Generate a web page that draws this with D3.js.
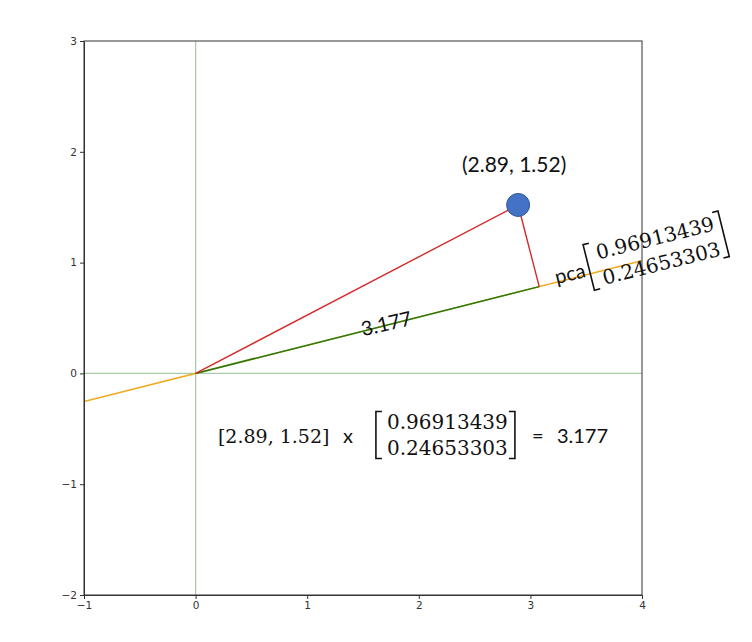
<!DOCTYPE html>
<html>
<head>
	<meta charset="utf-8">
	<title>PCA projection</title>
	<script type="text/javascript" src="https://cdn.jsdelivr.net/npm/d3@7"></script>
	<style type="text/css">
		body {
			margin: 0;
			background: #fff;
		}
		.axis text {
			font-family: "DejaVu Sans", sans-serif;
			font-size: 10.5px;
			fill: #333;
		}
		.axis line, .axis path {
			stroke: #333;
		}
		.sans {
			font-family: Lato, "Open Sans", sans-serif;
			fill: #111;
		}
		.serif {
			font-family: "DejaVu Serif", serif;
			fill: #111;
		}
	</style>
</head>
<body>
	<div id="chart"></div>
	<script type="text/javascript">
		// values
		const point = [2.89, 1.52];
		const pcaVector = [0.96913439, 0.24653303];
		const projection = 3.177;

		const xDomain = [-1, 4];
		const yDomain = [-2, 3];
		const xTicks = [-1, 0, 1, 2, 3, 4];
		const yTicks = [-2, -1, 0, 1, 2, 3];

		const pointLabel = "(2.89, 1.52)";
		const rowVecLabel = "[2.89, 1.52]";
		const pcaRows = ["0.96913439", "0.24653303"];
		const projLabel = "3.177";

		const width = 752;
		const height = 642;
		const margin = ({top: 41, right: 110, bottom: 47, left: 84});

		const x = d3.scaleLinear().domain(xDomain).range([margin.left, width - margin.right]);
		const y = d3.scaleLinear().domain(yDomain).range([height - margin.bottom, margin.top]);

		const svg = d3.select("#chart").append("svg")
			.attr("width", width)
			.attr("height", height);

		svg.append("defs").append("clipPath")
			.attr("id", "plot-clip")
			.append("rect")
				.attr("x", x(xDomain[0]))
				.attr("y", y(yDomain[1]))
				.attr("width", x(xDomain[1]) - x(xDomain[0]))
				.attr("height", y(yDomain[0]) - y(yDomain[1]));

		const plot = svg.append("g").attr("clip-path", "url(#plot-clip)");

		// zero lines
		plot.append("line")
			.attr("x1", x(xDomain[0])).attr("x2", x(xDomain[1]))
			.attr("y1", y(0)).attr("y2", y(0))
			.attr("stroke", "#a9cba9").attr("stroke-width", 1.3);
		plot.append("line")
			.attr("x1", x(0)).attr("x2", x(0))
			.attr("y1", y(yDomain[0])).attr("y2", y(yDomain[1]))
			.attr("stroke", "#a9cba9").attr("stroke-width", 1.3);

		// pca direction across the whole x range
		const slope = pcaVector[1] / pcaVector[0];
		const line = d3.line().x(d => x(d[0])).y(d => y(d[1]));

		plot.append("path")
			.attr("d", line(xDomain.map(v => [v, v * slope])))
			.attr("fill", "none")
			.attr("stroke", "#f0a91c")
			.attr("stroke-width", 1.5);

		const proj = [projection * pcaVector[0], projection * pcaVector[1]];

		plot.append("path")
			.attr("d", line([[0, 0], proj]))
			.attr("fill", "none")
			.attr("stroke", "#237a12")
			.attr("stroke-width", 1.5);

		plot.append("path")
			.attr("d", line([[0, 0], point, proj]))
			.attr("fill", "none")
			.attr("stroke", "#d42a2a")
			.attr("stroke-width", 1.4)
			.attr("stroke-linejoin", "round");

		svg.append("circle")
			.attr("cx", x(point[0]))
			.attr("cy", y(point[1]))
			.attr("r", 11.5)
			.attr("fill", "#4472c4")
			.attr("stroke", "#2f5597")
			.attr("stroke-width", 1);

		// axes
		const minus = d => d < 0 ? "\u2212" + Math.abs(d) : d;
		svg.append("g")
			.attr("class", "axis")
			.attr("transform", `translate(0,${y(yDomain[0])})`)
			.call(d3.axisBottom(x).tickValues(xTicks).tickSize(4).tickPadding(3)
				.tickFormat(minus).tickSizeOuter(0));
		svg.append("g")
			.attr("class", "axis")
			.attr("transform", `translate(${x(xDomain[0])},0)`)
			.call(d3.axisLeft(y).tickValues(yTicks).tickSize(4).tickPadding(3)
				.tickFormat(minus).tickSizeOuter(0));

		// frame (top and right spines)
		svg.append("rect")
			.attr("x", x(xDomain[0]))
			.attr("y", y(yDomain[1]))
			.attr("width", x(xDomain[1]) - x(xDomain[0]))
			.attr("height", y(yDomain[0]) - y(yDomain[1]))
			.attr("fill", "none")
			.attr("stroke", "#333")
			.attr("stroke-width", 1);

		// bracket drawn as a path, side = 1 left / -1 right
		const bracket = function (g, bx, top, bottom, side) {
			g.append("path")
				.attr("d", `M${bx + side * 6},${top}H${bx}V${bottom}H${bx + side * 6}`)
				.attr("fill", "none")
				.attr("stroke", "#111")
				.attr("stroke-width", 1.6);
		};

		const matrix = function (g, left) {
			bracket(g, left, -32, 15, 1);
			g.selectAll(null)
				.data(pcaRows)
				.join("text")
					.attr("class", "serif")
					.attr("x", left + 11)
					.attr("y", (d, i) => -14 + i * 26)
					.attr("font-size", 20)
					.text(d => d);
			bracket(g, left + 139, -32, 15, -1);
		};

		// label above the point
		svg.append("text")
			.attr("class", "sans")
			.attr("x", x(point[0]) - 4)
			.attr("y", y(point[1]) - 33)
			.attr("text-anchor", "middle")
			.attr("font-size", 21)
			.text(pointLabel);

		// projection length along the green line
		svg.append("text")
			.attr("class", "sans")
			.attr("font-size", 20)
			.attr("transform", `translate(${x(1.5)},${y(0.335)}) rotate(-13)`)
			.text(projLabel);

		// pca label following the orange line
		const pcaAt = [3.34 * pcaVector[0], 3.34 * pcaVector[1]];
		const pcaLabel = svg.append("g")
			.attr("transform", `translate(${x(pcaAt[0])},${y(pcaAt[1]) + 2}) rotate(-14)`);
		pcaLabel.append("text")
			.attr("class", "sans")
			.attr("font-size", 20)
			.text("pca");
		matrix(pcaLabel, 35);

		// dot product formula
		const formula = svg.append("g")
			.attr("transform", `translate(${x(0.2)},${y(-0.632)})`);
		formula.append("text")
			.attr("class", "serif")
			.attr("font-size", 19)
			.text(rowVecLabel);
		formula.append("text")
			.attr("class", "sans")
			.attr("x", 125)
			.attr("font-size", 20)
			.text("x");
		matrix(formula, 158);
		formula.append("text")
			.attr("class", "sans")
			.attr("x", 314)
			.attr("font-size", 20)
			.text("=");
		formula.append("text")
			.attr("class", "sans")
			.attr("x", 339)
			.attr("font-size", 20)
			.text(projLabel);
	</script>
</body>
</html>
